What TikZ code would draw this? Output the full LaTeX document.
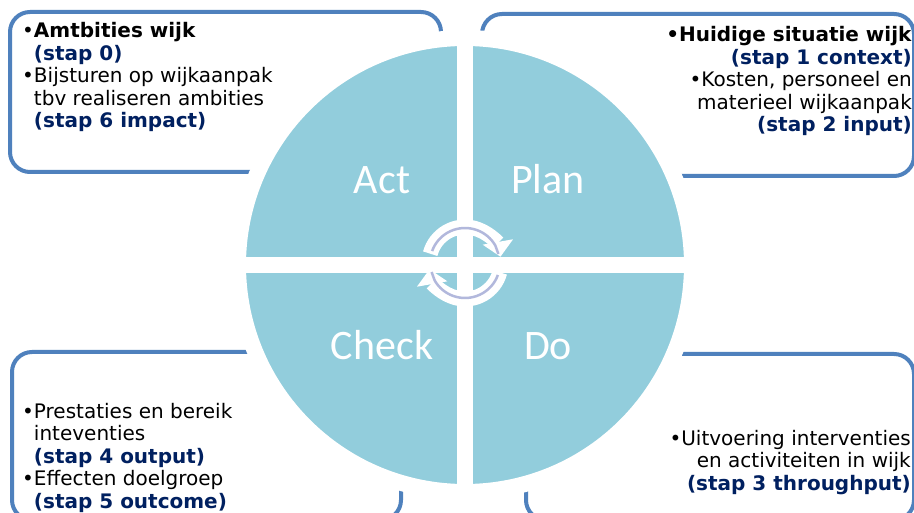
\documentclass[tikz,border=0pt]{standalone}
\usepackage{fontspec}
\setmainfont{DejaVu Sans}
\newfontfamily\carlito{Carlito}
\usetikzlibrary{arrows.meta}
\definecolor{pdcaaqua}{RGB}{146,205,220}
\definecolor{boxblue}{RGB}{79,129,189}
\definecolor{stapblue}{RGB}{0,32,96}
\definecolor{arrowlav}{RGB}{178,184,220}
\newcommand{\stap}[1]{\textcolor{stapblue}{\textbf{#1}}}
\newcommand{\nobul}{\phantom{\textbullet}}
\tikzset{
  kader/.style={draw=boxblue, line width=4pt, rounded corners=20pt},
  fase/.style={text=white, font=\carlito\fontsize{42}{50}\selectfont, inner sep=0pt},
  tekst/.style={font=\fontsize{20}{22.5}\selectfont, inner sep=0pt},
  pijlwit/.style={white, line width=15pt, -{Triangle[width=30pt,length=15pt]}},
  pijllijn/.style={arrowlav, line width=2.5pt},
}
\begin{document}
\begin{tikzpicture}[x=1pt,y=1pt]
    \useasboundingbox (0,0) rectangle (914,512);
    \clip (0,0) rectangle (914,512);
    \fill[white] (0,0) rectangle (914,512);
    % kaders achter de cirkel
    \draw[kader] (10,340) rectangle (441,500);
    \draw[kader] (482,336) rectangle (914,498);
    \draw[kader] (12,-8) rectangle (401,160);
    \draw[kader] (526,-8) rectangle (914,158);
    % PDCA-cirkel
    \coordinate (mid) at (465,247);
    \fill[pdcaaqua] (mid) circle (227);
    \draw[white, line width=16pt] (mid) circle (227);
    \draw[white, line width=16pt] ([xshift=-235pt]mid) -- ([xshift=235pt]mid);
    \draw[white, line width=16pt] ([yshift=-235pt]mid) -- ([yshift=235pt]mid);
    \node[fase, anchor=base] (act) at (382,318) {Act};
    \node[fase, anchor=base] (plan) at (548,318) {Plan};
    \node[fase, anchor=base] (check) at (382,152) {Check};
    \node[fase, anchor=base] (do) at (548,152) {Do};
    % ronddraaiende pijlen
    \coordinate (draai) at (465,249);
    \draw[pijlwit] ([shift={(165:36)}]draai) arc (165:10:36);
    \draw[pijllijn] ([shift={(160:35)}]draai) arc (160:30:35) -- ++(-70:9);
    \draw[pijlwit] ([shift={(-15:36)}]draai) arc (-15:-170:36);
    \draw[pijllijn] ([shift={(-20:35)}]draai) arc (-20:-150:35) -- ++(110:9);
    % teksten (anker op de laatste regel)
    \node[tekst, anchor=base west, align=left] (ambitie) at (22,384)
      {\textbullet\textbf{Amtbities wijk}\\
       \nobul\stap{(stap 0)}\\
       \textbullet Bijsturen op wijkaanpak\\
       \nobul tbv realiseren ambities\\
       \nobul\stap{(stap 6 impact)}};
    \node[tekst, anchor=base east, align=right] (situatie) at (912,380)
      {\textbf{\textbullet Huidige situatie wijk}\\
       \stap{(stap 1 context)}\\
       \textbullet Kosten, personeel en\\
       materieel wijkaanpak\\
       \stap{(stap 2 input)}};
    \node[tekst, anchor=base west, align=left] (prestatie) at (22,4)
      {\textbullet Prestaties en bereik\\
       \nobul inteventies\\
       \nobul\stap{(stap 4 output)}\\
       \textbullet Effecten doelgroep\\
       \nobul\stap{(stap 5 outcome)}};
    \node[tekst, anchor=base east, align=right] (uitvoering) at (911,22)
      {\textbullet Uitvoering interventies\\
       en activiteiten in wijk\\
       \stap{(stap 3 throughput)}};
\end{tikzpicture}
\end{document}
